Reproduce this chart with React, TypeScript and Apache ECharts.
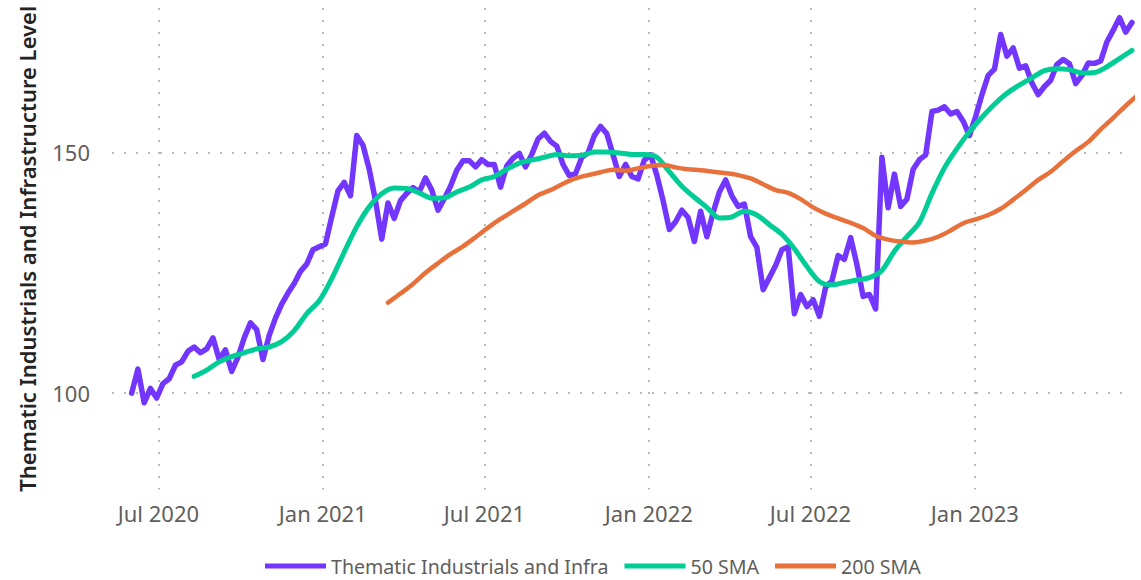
import React, { useEffect, useRef } from "react";
import * as echarts from "echarts";

const seriesNames = ["Thematic Industrials and Infra", "50 SMA", "200 SMA"];
const seriesColors = ["#7236FF", "#00CC96", "#E8703A"];

// weekly index level, starting 2020-06-01
const levelStart = "2020-06-01";
const levelStepDays = 7;
const levelValues = [
  100, 105, 98, 101, 99, 102, 103, 105.8, 106.5, 108.7,
  109.6, 108.4, 109.2, 111.5, 107, 109, 104.5, 107.5, 111.5, 114.6,
  113.2, 107, 112, 115.6, 118.5, 120.8, 122.8, 125.3, 126.8, 129.8,
  130.4, 131, 136.6, 142, 143.8, 141, 153.5, 151.5, 146.5, 140,
  132, 139.5, 136.3, 140, 141.5, 142.7, 141.8, 144.7, 142.2, 138,
  140.4, 143, 146.3, 148.3, 148.3, 147, 148.5, 147.5, 147.5, 142.8,
  147.2, 148.8, 149.8, 147, 149.6, 152.8, 154, 152.3, 151.3, 147.5,
  145.2, 145.6, 149, 149.9, 153.5, 155.4, 153.9, 149.5, 145, 147.5,
  145, 144.5, 148.4, 149.5, 145.3, 140, 134, 135.6, 138, 136.5,
  131.5, 137.8, 132.5, 137.5, 141.8, 144.3, 141, 138.8, 139.3, 132.5,
  130.3, 121.5, 124, 126.5, 129.8, 130.4, 116.5, 120.5, 118, 119.4,
  116, 122, 123.3, 128.6, 127.8, 132.3, 126.7, 120.1, 120.5, 117.5,
  149, 138.5, 145.5, 138.8, 140.3, 146.5, 148.5, 149.5, 158.5, 158.8,
  159.5, 158, 158.5, 156.5, 153.5, 157.5, 162, 166, 167.3, 174.5,
  170, 171.7, 167.5, 168, 164.4, 162, 163.7, 165, 168.3, 169.3,
  168.4, 164.3, 166, 168.6, 168.5, 169, 173, 175.4, 178, 175,
  177,
];

// 50-day SMA, every two weeks, starting 2020-08-10
const sma50Start = "2020-08-10";
const sma50StepDays = 14;
const sma50Values = [
  103.5, 104.8, 106.5, 107.6, 108.4, 109.2, 109.6, 110.7, 113, 116.5,
  119.2, 123.8, 129.3, 134.6, 138.7, 141.4, 142.6, 142.5, 141.6, 140.5,
  140.6, 141.8, 142.8, 144.3, 145, 146.5, 147.8, 148.4, 149, 149.6,
  149.3, 149.4, 150.1, 150.1, 149.9, 149.6, 149.6, 149, 146, 143,
  140.7, 138.6, 136.4, 136.6, 137.8, 137, 135, 133, 130, 126.3,
  123.2, 122.5, 123, 123.5, 124, 125.5, 129.5, 132.5, 135.5, 141.5,
  146.8, 150.8, 154.3, 157.3, 160, 162.3, 164, 165.5, 167, 167.4,
  167.2, 166.5, 166.6, 167.8, 169.5, 171.2,
];

// 200-day SMA, every two weeks, starting 2021-03-15
const sma200Start = "2021-03-15";
const sma200StepDays = 14;
const sma200Values = [
  118.8, 120.7, 122.7, 125, 127, 128.9, 130.5, 132.4, 134.4, 136.2,
  137.8, 139.4, 141.1, 142.2, 143.5, 144.6, 145.3, 145.9, 146.4, 146.2,
  146.7, 147.2, 147.4, 146.9, 146.5, 146.3, 146, 145.7, 145.3, 144.6,
  143.4, 142.2, 141.6, 140.3, 138.6, 137.3, 136.3, 135.4, 134.3, 132.7,
  131.9, 131.5, 131.3, 131.7, 132.5, 133.8, 135.3, 136.1, 137, 138.3,
  140.2, 142.2, 144.3, 146, 148.2, 150.3, 152.2, 154.8, 157.2, 159.7,
  162,
];

const xTickDates = ["2020-07-01", "2021-01-01", "2021-07-01", "2022-01-01", "2022-07-01", "2023-01-01"];
const xMin = "2020-05-10";
const xMax = "2023-06-26";
const yTickValues = [100, 150];
const yMin = 80;
const yMax = 180;
const yAxisTitle = "Thematic Industrials and Infrastructure Level";
const monthNames = ["Jan", "Feb", "Mar", "Apr", "May", "Jun", "Jul", "Aug", "Sep", "Oct", "Nov", "Dec"];

const FONT = '"Segoe UI", "Noto Sans", "Open Sans", sans-serif';

function parseDate(s: string): Date {
  const [y, m, d] = s.split("-").map(Number);
  return new Date(y, m - 1, d);
}

function buildSeries(start: string, stepDays: number, values: number[]): [number, number][] {
  const base = parseDate(start);
  return values.map((v, i) => {
    const d = new Date(base.getFullYear(), base.getMonth(), base.getDate() + i * stepDays);
    return [d.getTime(), v];
  });
}

export default function App() {
  const ref = useRef<HTMLDivElement>(null);

  useEffect(() => {
    document.body.style.margin = "0";
    if (!ref.current) return;
    const chart = echarts.init(ref.current, undefined, { renderer: "svg" });

    const xTicks = xTickDates.map((s) => parseDate(s).getTime());
    const gridLine = { show: true, lineStyle: { color: "#b8b8b8", width: 2, type: [2, 10] as number[] } };

    const option: any = {
      animation: false,
      grid: { left: 112, right: 9, top: 8, bottom: 90.5, containLabel: false, outerBoundsMode: "none" },
      legend: {
        top: 556,
        left: 265,
        padding: 0,
        icon: "rect",
        itemWidth: 61,
        itemHeight: 5,
        itemGap: 16,
        textStyle: { color: "#605E5C", fontSize: 19.6, fontFamily: FONT },
        data: seriesNames,
      },
      xAxis: {
        type: "value",
        min: parseDate(xMin).getTime(),
        max: parseDate(xMax).getTime(),
        axisLine: { show: false },
        axisTick: { show: false, customValues: xTicks },
        splitLine: gridLine,
        axisLabel: {
          customValues: xTicks,
          color: "#605E5C",
          fontSize: 22,
          fontFamily: FONT,
          margin: 12,
          formatter: (val: number) => {
            const d = new Date(val);
            return `${monthNames[d.getMonth()]} ${d.getFullYear()}`;
          },
        },
      },
      yAxis: {
        type: "value",
        min: yMin,
        max: yMax,
        name: yAxisTitle,
        nameLocation: "middle",
        nameGap: 74,
        nameTextStyle: { color: "#252423", fontSize: 22, fontWeight: 600, fontFamily: FONT },
        axisLine: { show: false },
        axisTick: { show: false, customValues: yTickValues },
        splitLine: gridLine,
        axisLabel: { customValues: yTickValues, color: "#605E5C", fontSize: 22, fontFamily: FONT, margin: 22 },
      },
      series: [
        {
          name: seriesNames[0],
          type: "line",
          data: buildSeries(levelStart, levelStepDays, levelValues),
          showSymbol: false,
          lineStyle: { color: seriesColors[0], width: 5.5, cap: "round", join: "round" },
          itemStyle: { color: seriesColors[0] },
        },
        {
          name: seriesNames[1],
          type: "line",
          data: buildSeries(sma50Start, sma50StepDays, sma50Values),
          showSymbol: false,
          smooth: 0.3,
          lineStyle: { color: seriesColors[1], width: 5, cap: "round", join: "round" },
          itemStyle: { color: seriesColors[1] },
        },
        {
          name: seriesNames[2],
          type: "line",
          data: buildSeries(sma200Start, sma200StepDays, sma200Values),
          showSymbol: false,
          smooth: 0.3,
          lineStyle: { color: seriesColors[2], width: 4.5, cap: "round", join: "round" },
          itemStyle: { color: seriesColors[2] },
        },
      ],
    };

    chart.setOption(option);
    return () => chart.dispose();
  }, []);

  return <div ref={ref} style={{ width: 1141, height: 580 }} />;
}
